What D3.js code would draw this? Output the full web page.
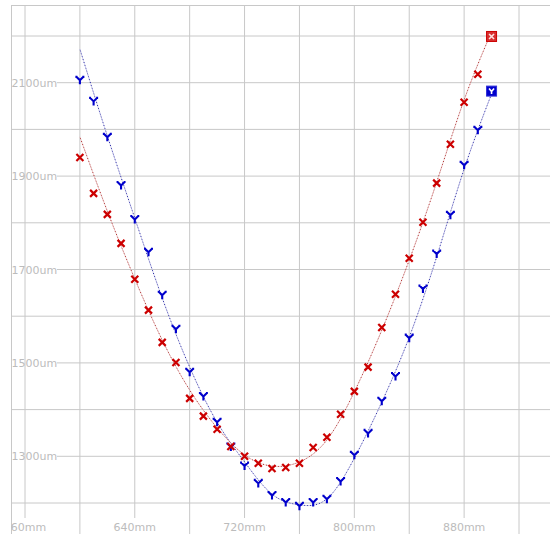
<!DOCTYPE html>
<html>
<head>
<meta charset="utf-8">
<script src="https://cdn.jsdelivr.net/npm/d3@7/dist/d3.min.js"></script>
<style>
  html, body { margin: 0; padding: 0; background: #fff; }
  svg { display: block; }
  text { font-family: "DejaVu Sans", sans-serif; font-size: 11px; fill: #bcbcbc; }
</style>
</head>
<body>
<div id="chart"></div>
<script>
// ---------- data ----------
const positions = [600,610,620,630,640,650,660,670,680,690,700,710,720,730,740,750,760,770,780,790,800,810,820,830,840,850,860,870,880,890,900];
const seriesRed  = [1940,1863,1818,1756,1679,1613,1544,1501,1424,1386,1358,1321,1300,1285,1274,1276,1285,1319,1341,1390,1439,1491,1576,1647,1724,1801,1885,1968,2058,2118,2199];
const seriesBlue = [2105,2060,1983,1880,1807,1737,1645,1572,1480,1428,1373,1320,1279,1242,1216,1201,1193,1201,1208,1246,1302,1349,1418,1471,1553,1658,1733,1816,1923,1998,2082];
// fitted trend curves
const fitPositions = [600,620,640,660,680,700,720,740,760,780,800,820,840,860,880,900];
const fitRed  = [1984,1825,1680,1549,1442,1361,1303,1279,1288,1335,1438,1570,1720,1887,2063,2209];
const fitBlue = [2172,1986,1810,1639,1491,1373,1288,1219,1196,1209,1296,1416,1555,1727,1915,2076];
// axis ticks
const xTicks = [560,600,640,680,720,760,800,840,880,920];
const xLabelTicks = [560,640,720,800,880];
const yTicks = [1200,1300,1400,1500,1600,1700,1800,1900,2000,2100,2200];
const yLabelTicks = [1300,1500,1700,1900,2100];

// ---------- layout ----------
const W = 550, H = 534;
const plotLeft = 11, plotTop = 5;
const x = d3.scaleLinear().domain([560, 920]).range([25, 519]);
const y = d3.scaleLinear().domain([1200, 2200]).range([503, 36]);

const svg = d3.select("#chart").append("svg").attr("width", W).attr("height", H);

const defs = svg.append("defs");
defs.append("clipPath").attr("id", "plot").append("rect")
  .attr("x", plotLeft).attr("y", plotTop).attr("width", W - plotLeft).attr("height", H - plotTop);

const g = svg.append("g").attr("clip-path", "url(#plot)");
const gridColor = "#c8c8c8";

// vertical grid
g.selectAll("line.vx").data(xTicks).join("line")
  .attr("class", "vx")
  .attr("x1", d => x(d)).attr("x2", d => x(d))
  .attr("y1", plotTop).attr("y2", d => xLabelTicks.includes(d) ? 518 : H)
  .attr("stroke", gridColor).attr("stroke-width", 1);

// horizontal grid
g.selectAll("line.hy").data(yTicks).join("line")
  .attr("class", "hy")
  .attr("x1", d => yLabelTicks.includes(d) ? 57 : plotLeft).attr("x2", W)
  .attr("y1", d => y(d)).attr("y2", d => y(d))
  .attr("stroke", gridColor).attr("stroke-width", 1);

// border (top & left)
g.append("line").attr("x1", plotLeft).attr("x2", W).attr("y1", plotTop + 0.5).attr("y2", plotTop + 0.5)
  .attr("stroke", gridColor);
g.append("line").attr("x1", plotLeft + 0.5).attr("x2", plotLeft + 0.5).attr("y1", plotTop).attr("y2", H)
  .attr("stroke", gridColor);

// y labels
g.selectAll("text.yl").data(yLabelTicks).join("text")
  .attr("class", "yl")
  .attr("x", 11.5).attr("y", d => y(d) + 4)
  .text(d => d + "um");

// x labels
g.selectAll("text.xl").data(xLabelTicks).join("text")
  .attr("class", "xl")
  .attr("x", d => x(d)).attr("y", 531)
  .attr("text-anchor", "middle")
  .text(d => d + "mm");

// ---------- curves ----------
const line = d3.line().x(d => x(d[0])).y(d => y(d[1])).curve(d3.curveNatural);
function drawFit(vals, light, dark) {
  const pts = fitPositions.map((p, i) => [p, vals[i]]);
  g.append("path").attr("d", line(pts)).attr("fill", "none")
    .attr("stroke", light).attr("stroke-width", 1).attr("stroke-dasharray", "1,2");
  g.append("path").attr("d", line(pts)).attr("fill", "none")
    .attr("stroke", dark).attr("stroke-width", 1).attr("stroke-dasharray", "1,2")
    .attr("stroke-dashoffset", 1.5);
}
drawFit(fitBlue, "#b4b4e6", "#2020a0");
drawFit(fitRed, "#e6b0b0", "#a82020");

// ---------- markers ----------
const blue = "#0000cc", red = "#cc0000";
const yPath = "M-4.5,-3.5H-2.5M2.5,-3.5H4.5M-3.5,-3.5L0,0L3.5,-3.5M0,0V4";
const xPath = "M-3.5,-3.5L3.5,3.5M-3.5,3.5L3.5,-3.5";

const bluePts = positions.map((p, i) => ({ p, v: seriesBlue[i], last: i === positions.length - 1 }));
const redPts = positions.map((p, i) => ({ p, v: seriesRed[i], last: i === positions.length - 1 }));

const bg = g.append("g");
bg.selectAll("g").data(bluePts).join("g")
  .attr("transform", d => `translate(${x(d.p)},${y(d.v)})`)
  .each(function(d) {
    const s = d3.select(this);
    if (d.last) {
      s.append("rect").attr("x", -5).attr("y", -5).attr("width", 10).attr("height", 10)
        .attr("fill", blue).attr("stroke", "#3030d8").attr("stroke-width", 1);
      s.append("path").attr("d", "M-2.5,-2.5L0,0.5L2.5,-2.5M0,0.5V3").attr("fill", "none")
        .attr("stroke", "#ffffff").attr("stroke-width", 1.6);
    } else {
      s.append("path").attr("d", yPath).attr("fill", "none")
        .attr("stroke", blue).attr("stroke-width", 2.1);
    }
  });

const rg = g.append("g");
rg.selectAll("g").data(redPts).join("g")
  .attr("transform", d => `translate(${x(d.p)},${y(d.v)})`)
  .each(function(d) {
    const s = d3.select(this);
    if (d.last) {
      s.append("rect").attr("x", -5).attr("y", -5).attr("width", 10).attr("height", 10)
        .attr("fill", "#d83030").attr("stroke", red).attr("stroke-width", 1);
      s.append("path").attr("d", "M-2.5,-2.5L2.5,2.5M-2.5,2.5L2.5,-2.5").attr("fill", "none")
        .attr("stroke", "#ffe0e0").attr("stroke-width", 1.6);
    } else {
      s.append("path").attr("d", xPath).attr("fill", "none")
        .attr("stroke", red).attr("stroke-width", 2.2);
    }
  });
</script>
</body>
</html>
